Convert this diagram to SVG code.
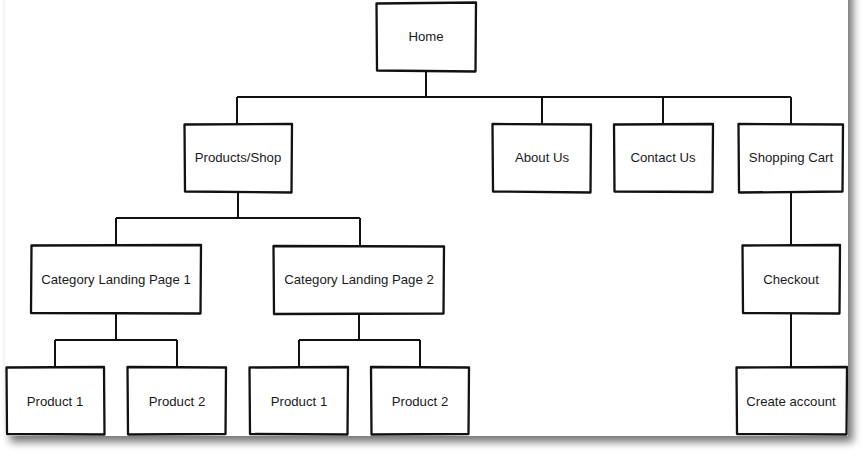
<svg xmlns="http://www.w3.org/2000/svg" width="863" height="456" viewBox="0 0 863 456">
<defs>
<filter id="sh" x="-5%" y="-5%" width="115%" height="120%">
<feGaussianBlur in="SourceAlpha" stdDeviation="4"/>
<feOffset dx="5" dy="6" result="b"/>
<feComponentTransfer><feFuncA type="linear" slope="0.55"/></feComponentTransfer>
<feMerge><feMergeNode/><feMergeNode in="SourceGraphic"/></feMerge>
</filter>
<clipPath id="cv"><rect x="5" y="0" width="843" height="436"/></clipPath>
</defs>
<style>
.box{fill:#fff;stroke:#111;stroke-width:2.3;stroke-linejoin:round}
.ln{fill:none;stroke:#111;stroke-width:2}
.t{font-family:"Liberation Sans",Arial,sans-serif;font-size:13.2px;fill:#1a1a1a;text-anchor:middle;dominant-baseline:central}
</style>
<rect x="5" y="-20" width="843" height="456" fill="#fff" filter="url(#sh)"/>
<g clip-path="url(#cv)">
<g id="connectors">
<path class="ln" d="M426 71V97M237 97H791M237 97V124M542 97V124M663 97V124M791 97V124"/>
<path class="ln" d="M238 192V218M116 218H360M116 218V245M360 218V246"/>
<path class="ln" d="M116 314V340M55 340H177M55 340V367M177 340V367"/>
<path class="ln" d="M359 314V340M299 340H420M299 340V367M420 340V367"/>
<path class="ln" d="M791 192V245M791 314V367"/>
</g>
<g id="home"><path class="box" d="M376.5 3.5L476 2.5L475.5 71.5L377 70.5Z"/><text class="t" x="426" y="36">Home</text></g>
<g id="products-shop"><path class="box" d="M184.5 124.5L292 124L291.5 192.5L185 191.5Z"/><text class="t" x="238" y="157">Products/Shop</text></g>
<g id="about-us"><path class="box" d="M492.5 124L591 124.5L590.5 192.5L493 191.5Z"/><text class="t" x="542" y="157">About Us</text></g>
<g id="contact-us"><path class="box" d="M614 124.5L713 124L712.5 192L614.5 191.5Z"/><text class="t" x="663" y="157">Contact Us</text></g>
<g id="shopping-cart"><path class="box" d="M738.5 124L843 124.5L842.5 191.5L739 192.5Z"/><text class="t" x="791" y="157">Shopping Cart</text></g>
<g id="category-1"><path class="box" d="M31.5 245.5L201 245L200.5 313.5L31 313Z"/><text class="t" x="116" y="279">Category Landing Page 1</text></g>
<g id="category-2"><path class="box" d="M273.5 246L444 246.5L443.5 313.5L274 314Z"/><text class="t" x="359" y="279">Category Landing Page 2</text></g>
<g id="checkout"><path class="box" d="M742.5 245.5L840 245L839.5 313.5L743 313Z"/><text class="t" x="791" y="279">Checkout</text></g>
<g id="product-1a"><path class="box" d="M6.5 367.5L104 367L104.5 434.5L7 434Z"/><text class="t" x="55" y="401">Product 1</text></g>
<g id="product-2a"><path class="box" d="M127.5 367L226 367.5L225.5 434L128 434.5Z"/><text class="t" x="177" y="401">Product 2</text></g>
<g id="product-1b"><path class="box" d="M249.5 367.5L348 367L347.5 434.5L250 434Z"/><text class="t" x="299" y="401">Product 1</text></g>
<g id="product-2b"><path class="box" d="M371 367L469 367.5L468.5 434L371.5 434.5Z"/><text class="t" x="420" y="401">Product 2</text></g>
<g id="create-account"><path class="box" d="M736.5 367.5L847 367L846.5 434.5L737 434Z"/><text class="t" x="791" y="401">Create account</text></g>
</g>
</svg>
